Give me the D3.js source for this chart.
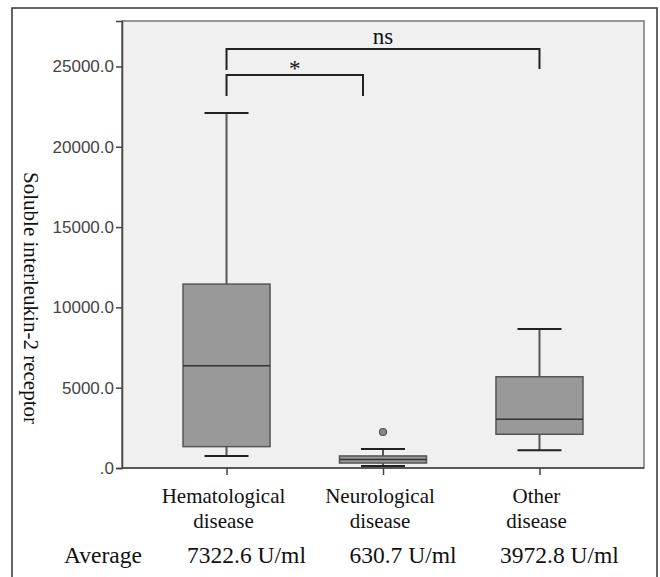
<!DOCTYPE html>
<html>
<head>
<meta charset="utf-8">
<script src="https://cdn.jsdelivr.net/npm/d3@7"></script>
<style>
  body { margin: 0; background: #fff; }
</style>
</head>
<body>
<div class="container"></div>
<script>
// data
const categories = ["Hematological disease", "Neurological disease", "Other disease"];
const labelLines = [["Hematological", "disease"], ["Neurological", "disease"], ["Other", "disease"]];
const whiskerLow = [750, 125, 1100];
const q1 = [1330, 310, 2100];
const median = [6370, 530, 3030];
const q3 = [11450, 750, 5680];
const whiskerHigh = [22100, 1180, 8650];
const outliers = [[], [2240], []];
const averages = ["7322.6 U/ml", "630.7 U/ml", "3972.8 U/ml"];
const yTicks = [0, 5000, 10000, 15000, 20000, 25000];
const yMax = 27830;

const WIDTH = 660, HEIGHT = 577;
const plot = { left: 122, top: 21, right: 644, bottom: 468 };

const svg = d3.select(".container").append("svg")
  .attr("width", WIDTH).attr("height", HEIGHT);

// outer frame
svg.append("rect")
  .attr("x", 12).attr("y", 8).attr("width", 645).attr("height", 600)
  .attr("fill", "none").attr("stroke", "#333").attr("stroke-width", 1.5);

const x = d3.scalePoint().domain(categories)
  .range([plot.left, plot.right]).padding(0.668);
const y = d3.scaleLinear().domain([0, yMax]).range([plot.bottom, plot.top]);

// plot background
svg.append("rect")
  .attr("x", plot.left).attr("y", plot.top)
  .attr("width", plot.right - plot.left).attr("height", plot.bottom - plot.top)
  .attr("fill", "#f0f0f0").attr("stroke", "#777").attr("stroke-width", 1.5);

// y axis
const yAxis = svg.append("g")
  .attr("transform", `translate(${plot.left},0)`)
  .call(d3.axisLeft(y).tickValues(yTicks).tickSize(6).tickPadding(2)
    .tickFormat(d => d === 0 ? ".0" : d3.format(".1f")(d)));
yAxis.select(".domain").attr("stroke", "#444").attr("stroke-width", 1.5);
yAxis.selectAll("line").attr("stroke", "#444").attr("stroke-width", 1.5);
yAxis.selectAll("text")
  .attr("font-family", "Liberation Sans, Arial, sans-serif")
  .attr("font-size", 17).attr("fill", "#444");

// x axis
const xAxis = svg.append("g")
  .attr("transform", `translate(0,${plot.bottom})`)
  .call(d3.axisBottom(x).tickSize(7).tickFormat(""));
xAxis.select(".domain").attr("d", `M${plot.left},0H${plot.right}`)
  .attr("stroke", "#444").attr("stroke-width", 1.5);
xAxis.selectAll("line").attr("stroke", "#444").attr("stroke-width", 1.5);

// y title
svg.append("text")
  .attr("transform", "translate(24,298) rotate(90)")
  .attr("text-anchor", "middle")
  .attr("font-family", "Liberation Serif, Times New Roman, serif")
  .attr("font-size", 21).attr("fill", "#111")
  .text("Soluble interleukin-2 receptor");

const boxW = 87, capW = 44;
const boxes = svg.append("g").selectAll("g")
  .data(categories).enter().append("g");

// whiskers
boxes.append("line")
  .attr("x1", d => x(d)).attr("x2", d => x(d))
  .attr("y1", (d, i) => y(whiskerHigh[i])).attr("y2", (d, i) => y(q3[i]))
  .attr("stroke", "#555").attr("stroke-width", 2);
boxes.append("line")
  .attr("x1", d => x(d)).attr("x2", d => x(d))
  .attr("y1", (d, i) => y(q1[i])).attr("y2", (d, i) => y(whiskerLow[i]))
  .attr("stroke", "#555").attr("stroke-width", 2);
boxes.append("line")
  .attr("x1", d => x(d) - capW / 2).attr("x2", d => x(d) + capW / 2)
  .attr("y1", (d, i) => y(whiskerHigh[i])).attr("y2", (d, i) => y(whiskerHigh[i]))
  .attr("stroke", "#222").attr("stroke-width", 2);
boxes.append("line")
  .attr("x1", d => x(d) - capW / 2).attr("x2", d => x(d) + capW / 2)
  .attr("y1", (d, i) => y(whiskerLow[i])).attr("y2", (d, i) => y(whiskerLow[i]))
  .attr("stroke", "#222").attr("stroke-width", 2);

// boxes
boxes.append("rect")
  .attr("x", d => x(d) - boxW / 2).attr("width", boxW)
  .attr("y", (d, i) => y(q3[i])).attr("height", (d, i) => y(q1[i]) - y(q3[i]))
  .attr("fill", "#999").attr("stroke", "#555").attr("stroke-width", 1.5);
boxes.append("line")
  .attr("x1", d => x(d) - boxW / 2).attr("x2", d => x(d) + boxW / 2)
  .attr("y1", (d, i) => y(median[i])).attr("y2", (d, i) => y(median[i]))
  .attr("stroke", "#333").attr("stroke-width", 1.5);

// outliers
boxes.each(function (d, i) {
  d3.select(this).selectAll("circle").data(outliers[i]).enter().append("circle")
    .attr("cx", x(d)).attr("cy", v => y(v)).attr("r", 3.5)
    .attr("fill", "#888").attr("stroke", "#555").attr("stroke-width", 1.2);
});

// significance brackets
const serif = "Liberation Serif, Times New Roman, serif";
function bracket(x1, x2, top, bottom1, bottom2, label, ly) {
  svg.append("path")
    .attr("d", `M${x1},${bottom1}V${top}H${x2}V${bottom2}`)
    .attr("fill", "none").attr("stroke", "#222").attr("stroke-width", 2);
  svg.append("text")
    .attr("x", (x1 + x2) / 2).attr("y", ly).attr("text-anchor", "middle")
    .attr("font-family", serif).attr("font-size", 23).attr("fill", "#111")
    .text(label);
}
bracket(x(categories[0]), x(categories[2]), 49, 70, 69, "ns", 44);
bracket(x(categories[0]), x(categories[1]) - 20, 75, 96, 96, "*", 76);

// category labels
const lab = svg.append("g").selectAll("text")
  .data(categories).enter().append("text")
  .attr("font-family", serif).attr("font-size", 21).attr("fill", "#111")
  .attr("text-anchor", "middle");
lab.selectAll("tspan").data((d, i) => labelLines[i].map(t => ({ t, d }))).enter()
  .append("tspan")
  .attr("x", o => x(o.d) - 3)
  .attr("y", (o, j) => 503 + j * 25)
  .text(o => o.t);

// averages row
svg.append("text")
  .attr("x", 64).attr("y", 563)
  .attr("font-family", serif).attr("font-size", 23.5).attr("fill", "#111")
  .text("Average");
svg.append("g").selectAll("text")
  .data(categories).enter().append("text")
  .attr("x", d => x(d) + 20).attr("y", 563)
  .attr("text-anchor", "middle")
  .attr("font-family", serif).attr("font-size", 23.5).attr("fill", "#111")
  .text((d, i) => averages[i]);
</script>
</body>
</html>
